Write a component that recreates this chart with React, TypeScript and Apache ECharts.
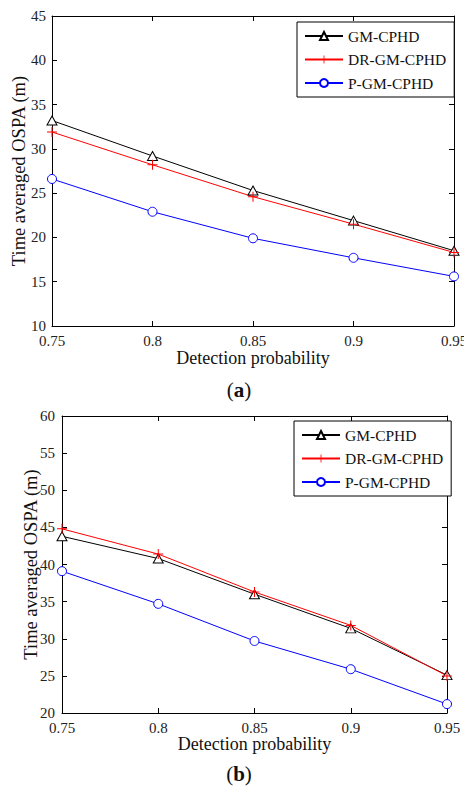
import React, { useEffect, useRef } from "react";
import * as echarts from "echarts";

const categories = ["0.75", "0.8", "0.85", "0.9", "0.95"];
const seriesNames = ["GM-CPHD", "DR-GM-CPHD", "P-GM-CPHD"];

// Chart (a)
const aGM = [33.2, 29.2, 25.3, 21.9, 18.5];
const aDR = [31.9, 28.2, 24.6, 21.5, 18.3];
const aP = [26.6, 22.9, 19.9, 17.7, 15.6];

// Chart (b)
const bGM = [43.8, 40.8, 36.0, 31.4, 25.1];
const bDR = [44.8, 41.4, 36.3, 31.8, 25.0];
const bP = [39.1, 34.7, 29.7, 25.9, 21.2];

const FONT = "Liberation Serif";
const PLUS = "path://M4.5,0 H5.5 V4.5 H10 V5.5 H5.5 V10 H4.5 V5.5 H0 V4.5 H4.5 Z";

function makeSeries(data: number[][], axisIdx: number) {
  const colors = ["#000000", "#ff0000", "#0000ff"];
  const symbols = ["triangle", PLUS, "circle"];
  const sizes: any[] = [[10, 9], 10, 9];
  const items = [
    { color: "#fff", borderColor: "#000000", borderWidth: 1 },
    { color: "#ff0000", borderWidth: 0 },
    { color: "#fff", borderColor: "#0000ff", borderWidth: 1 },
  ];
  return data.map((d, i) => ({
    name: seriesNames[i],
    type: "line",
    xAxisIndex: axisIdx,
    yAxisIndex: axisIdx,
    data: d,
    symbol: symbols[i],
    symbolSize: sizes[i],
    showAllSymbol: true,
    lineStyle: { color: colors[i], width: 1 },
    itemStyle: items[i],
    emphasis: { disabled: true },
    z: 3,
  }));
}

function xAxes(gridIndex: number, name: string, nameGap: number) {
  const common = {
    type: "category",
    data: categories,
    boundaryGap: false,
    gridIndex,
    axisLine: { show: true, lineStyle: { color: "#000", width: 1 } },
    axisTick: { show: true, inside: true, length: 5, lineStyle: { color: "#000" } },
    splitLine: { show: false },
  };
  return [
    {
      ...common,
      position: "bottom",
      name,
      nameLocation: "middle",
      nameGap,
      nameMoveOverlap: false,
      nameTextStyle: { fontFamily: FONT, fontSize: 18, color: "#111" },
      axisLabel: { fontFamily: FONT, fontSize: 15, color: "#222", margin: 7 },
    },
    { ...common, position: "top", axisLabel: { show: false } },
  ];
}

function yAxes(gridIndex: number, min: number, max: number, nameGap: number, margin: number) {
  const common = {
    type: "value",
    min,
    max,
    interval: 5,
    gridIndex,
    axisLine: { show: true, lineStyle: { color: "#000", width: 1 } },
    axisTick: { show: true, inside: true, length: 5, lineStyle: { color: "#000" } },
    splitLine: { show: false },
  };
  return [
    {
      ...common,
      position: "left",
      name: "Time averaged OSPA (m)",
      nameLocation: "middle",
      nameGap,
      nameMoveOverlap: false,
      nameTextStyle: { fontFamily: FONT, fontSize: 18.5, color: "#111" },
      axisLabel: { fontFamily: FONT, fontSize: 15, color: "#222", margin },
    },
    { ...common, position: "right", axisLabel: { show: false } },
  ];
}

function legend(left: number, top: number) {
  return {
    left,
    top,
    orient: "vertical",
    data: seriesNames,
    backgroundColor: "#fff",
    borderColor: "#000",
    borderWidth: 1,
    padding: [6, 8, 6, 7],
    itemGap: 7.5,
    itemWidth: 38,
    itemHeight: 10,
    textStyle: { fontFamily: FONT, fontSize: 15.5, color: "#111" },
    selectedMode: false,
  };
}

function caption(letter: string, y: number) {
  return {
    type: "text",
    x: 239,
    y,
    style: {
      text: "{n|(}{b|" + letter + "}{n|)}",
      align: "center",
      verticalAlign: "middle",
      rich: {
        n: { fontFamily: FONT, fontSize: 21, fill: "#111" },
        b: { fontFamily: FONT, fontSize: 21, fontWeight: "bold", fill: "#111" },
      },
    },
  };
}

export default function App() {
  const ref = useRef<HTMLDivElement>(null);
  useEffect(() => {
    if (!ref.current) return;
    const chart = echarts.init(ref.current, undefined, { renderer: "svg" });
    chart.setOption({
      animation: false,
      backgroundColor: "#fff",
      grid: [
        { left: 52, top: 16, width: 402, height: 310, containLabel: false, outerBoundsMode: "none" },
        { left: 62, top: 416, width: 385, height: 297, containLabel: false, outerBoundsMode: "none" },
      ],
      xAxis: [
        ...xAxes(0, "Detection probability", 23),
        ...xAxes(1, "Detection probability", 22),
      ],
      yAxis: [...yAxes(0, 10, 45, 24, 6), ...yAxes(1, 20, 60, 22, 7)],
      legend: [legend(297, 22), legend(294, 421)],
      series: [
        ...makeSeries([aGM, aDR, aP], 0),
        ...makeSeries([bGM, bDR, bP], 2),
      ],
      graphic: [caption("a", 390), caption("b", 774)],
    });
    return () => chart.dispose();
  }, []);
  return (
    <div
      ref={ref}
      style={{ position: "fixed", left: 0, top: 0, width: 464, height: 787 }}
    />
  );
}
